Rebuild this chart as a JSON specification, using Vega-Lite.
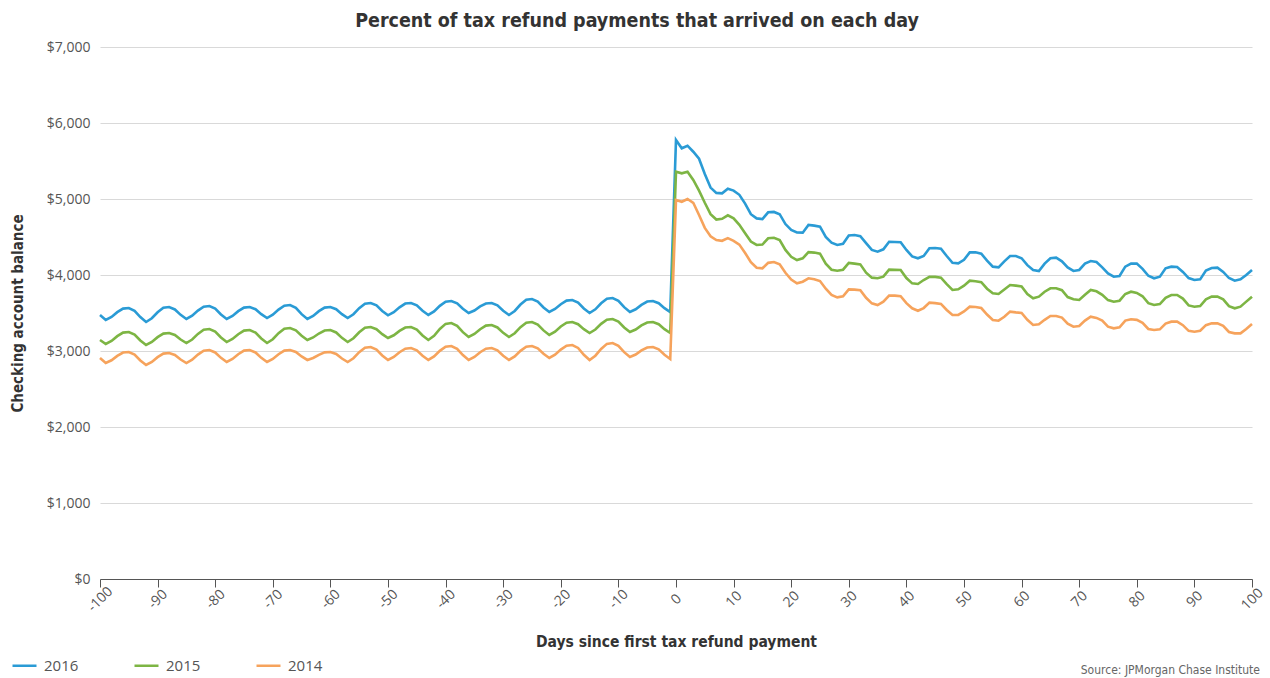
{
  "$schema": "https://vega.github.io/schema/vega-lite/v6.json",
  "width": 1152,
  "height": 532,
  "autosize": {"type": "none"},
  "padding": {"left": 100, "top": 47, "right": 18, "bottom": 99},
  "background": "#ffffff",
  "title": {
    "text": "Percent of tax refund payments that arrived on each day",
    "anchor": "middle",
    "frame": "group",
    "dx": -39,
    "offset": 9,
    "font": "Liberation Sans Narrow, DejaVu Sans Condensed, sans-serif",
    "fontSize": 19.5,
    "fontWeight": "bold",
    "color": "#333333"
  },
  "config": {
    "view": {"stroke": null},
    "axis": {"labelFont": "Open Sans", "titleFont": "Liberation Sans Narrow, DejaVu Sans Condensed, sans-serif"}
  },
  "layer": [
    {
      "data": {
        "values": [
          {"d": -100, "2016": 3474, "2015": 3145, "2014": 2908},
          {"d": -99, "2016": 3408, "2015": 3092, "2014": 2842},
          {"d": -98, "2016": 3448, "2015": 3132, "2014": 2878},
          {"d": -97, "2016": 3511, "2015": 3195, "2014": 2936},
          {"d": -96, "2016": 3558, "2015": 3242, "2014": 2980},
          {"d": -95, "2016": 3566, "2015": 3250, "2014": 2987},
          {"d": -94, "2016": 3529, "2015": 3216, "2014": 2953},
          {"d": -93, "2016": 3446, "2015": 3139, "2014": 2876},
          {"d": -92, "2016": 3382, "2015": 3079, "2014": 2816},
          {"d": -91, "2016": 3431, "2015": 3119, "2014": 2856},
          {"d": -90, "2016": 3510, "2015": 3182, "2014": 2919},
          {"d": -89, "2016": 3569, "2015": 3229, "2014": 2966},
          {"d": -88, "2016": 3579, "2015": 3237, "2014": 2974},
          {"d": -87, "2016": 3547, "2015": 3211, "2014": 2948},
          {"d": -86, "2016": 3476, "2015": 3151, "2014": 2888},
          {"d": -85, "2016": 3421, "2015": 3105, "2014": 2842},
          {"d": -84, "2016": 3464, "2015": 3151, "2014": 2885},
          {"d": -83, "2016": 3532, "2015": 3225, "2014": 2953},
          {"d": -82, "2016": 3583, "2015": 3280, "2014": 3004},
          {"d": -81, "2016": 3592, "2015": 3289, "2014": 3013},
          {"d": -80, "2016": 3558, "2015": 3255, "2014": 2981},
          {"d": -79, "2016": 3481, "2015": 3178, "2014": 2910},
          {"d": -78, "2016": 3421, "2015": 3118, "2014": 2855},
          {"d": -77, "2016": 3461, "2015": 3158, "2014": 2895},
          {"d": -76, "2016": 3524, "2015": 3221, "2014": 2958},
          {"d": -75, "2016": 3571, "2015": 3268, "2014": 3005},
          {"d": -74, "2016": 3579, "2015": 3276, "2014": 3013},
          {"d": -73, "2016": 3550, "2015": 3242, "2014": 2981},
          {"d": -72, "2016": 3485, "2015": 3165, "2014": 2910},
          {"d": -71, "2016": 3434, "2015": 3105, "2014": 2855},
          {"d": -70, "2016": 3477, "2015": 3155, "2014": 2895},
          {"d": -69, "2016": 3545, "2015": 3234, "2014": 2958},
          {"d": -68, "2016": 3596, "2015": 3293, "2014": 3005},
          {"d": -67, "2016": 3605, "2015": 3303, "2014": 3013},
          {"d": -66, "2016": 3568, "2015": 3271, "2014": 2987},
          {"d": -65, "2016": 3485, "2015": 3200, "2014": 2928},
          {"d": -64, "2016": 3421, "2015": 3145, "2014": 2882},
          {"d": -63, "2016": 3461, "2015": 3178, "2014": 2908},
          {"d": -62, "2016": 3524, "2015": 3230, "2014": 2950},
          {"d": -61, "2016": 3571, "2015": 3269, "2014": 2982},
          {"d": -60, "2016": 3579, "2015": 3276, "2014": 2987},
          {"d": -59, "2016": 3550, "2015": 3244, "2014": 2961},
          {"d": -58, "2016": 3485, "2015": 3173, "2014": 2901},
          {"d": -57, "2016": 3434, "2015": 3118, "2014": 2855},
          {"d": -56, "2016": 3484, "2015": 3168, "2014": 2905},
          {"d": -55, "2016": 3563, "2015": 3247, "2014": 2984},
          {"d": -54, "2016": 3622, "2015": 3306, "2014": 3043},
          {"d": -53, "2016": 3632, "2015": 3316, "2014": 3053},
          {"d": -52, "2016": 3600, "2015": 3287, "2014": 3019},
          {"d": -51, "2016": 3527, "2015": 3222, "2014": 2942},
          {"d": -50, "2016": 3470, "2015": 3171, "2014": 2882},
          {"d": -49, "2016": 3511, "2015": 3207, "2014": 2921},
          {"d": -48, "2016": 3575, "2015": 3265, "2014": 2984},
          {"d": -47, "2016": 3624, "2015": 3309, "2014": 3031},
          {"d": -46, "2016": 3632, "2015": 3316, "2014": 3039},
          {"d": -45, "2016": 3600, "2015": 3282, "2014": 3008},
          {"d": -44, "2016": 3529, "2015": 3205, "2014": 2937},
          {"d": -43, "2016": 3474, "2015": 3145, "2014": 2882},
          {"d": -42, "2016": 3520, "2015": 3201, "2014": 2928},
          {"d": -41, "2016": 3594, "2015": 3290, "2014": 3002},
          {"d": -40, "2016": 3649, "2015": 3357, "2014": 3057},
          {"d": -39, "2016": 3658, "2015": 3368, "2014": 3066},
          {"d": -38, "2016": 3626, "2015": 3331, "2014": 3029},
          {"d": -37, "2016": 3555, "2015": 3248, "2014": 2946},
          {"d": -36, "2016": 3500, "2015": 3184, "2014": 2882},
          {"d": -35, "2016": 3533, "2015": 3224, "2014": 2921},
          {"d": -34, "2016": 3586, "2015": 3287, "2014": 2984},
          {"d": -33, "2016": 3625, "2015": 3334, "2014": 3031},
          {"d": -32, "2016": 3632, "2015": 3342, "2014": 3039},
          {"d": -31, "2016": 3600, "2015": 3310, "2014": 3008},
          {"d": -30, "2016": 3529, "2015": 3239, "2014": 2937},
          {"d": -29, "2016": 3474, "2015": 3184, "2014": 2882},
          {"d": -28, "2016": 3527, "2015": 3234, "2014": 2928},
          {"d": -27, "2016": 3611, "2015": 3313, "2014": 3002},
          {"d": -26, "2016": 3674, "2015": 3372, "2014": 3057},
          {"d": -25, "2016": 3684, "2015": 3382, "2014": 3066},
          {"d": -24, "2016": 3650, "2015": 3348, "2014": 3034},
          {"d": -23, "2016": 3573, "2015": 3271, "2014": 2963},
          {"d": -22, "2016": 3513, "2015": 3211, "2014": 2908},
          {"d": -21, "2016": 3553, "2015": 3254, "2014": 2951},
          {"d": -20, "2016": 3616, "2015": 3322, "2014": 3019},
          {"d": -19, "2016": 3663, "2015": 3373, "2014": 3070},
          {"d": -18, "2016": 3671, "2015": 3382, "2014": 3079},
          {"d": -17, "2016": 3637, "2015": 3353, "2014": 3040},
          {"d": -16, "2016": 3560, "2015": 3288, "2014": 2951},
          {"d": -15, "2016": 3500, "2015": 3237, "2014": 2882},
          {"d": -14, "2016": 3549, "2015": 3283, "2014": 2938},
          {"d": -13, "2016": 3628, "2015": 3357, "2014": 3027},
          {"d": -12, "2016": 3687, "2015": 3412, "2014": 3094},
          {"d": -11, "2016": 3697, "2015": 3421, "2014": 3105},
          {"d": -10, "2016": 3660, "2015": 3387, "2014": 3068},
          {"d": -9, "2016": 3577, "2015": 3310, "2014": 2985},
          {"d": -8, "2016": 3513, "2015": 3250, "2014": 2921},
          {"d": -7, "2016": 3549, "2015": 3283, "2014": 2954},
          {"d": -6, "2016": 3607, "2015": 3336, "2014": 3007},
          {"d": -5, "2016": 3651, "2015": 3375, "2014": 3046},
          {"d": -4, "2016": 3658, "2015": 3382, "2014": 3053},
          {"d": -3, "2016": 3629, "2015": 3353, "2014": 3021},
          {"d": -2, "2016": 3564, "2015": 3288, "2014": 2950},
          {"d": -1, "2016": 3513, "2015": 3237, "2014": 2895},
          {"d": 0, "2016": 5776, "2015": 5359, "2014": 4987},
          {"d": 1, "2016": 5667, "2015": 5338, "2014": 4964},
          {"d": 2, "2016": 5701, "2015": 5359, "2014": 5000},
          {"d": 3, "2016": 5622, "2015": 5250, "2014": 4950},
          {"d": 4, "2016": 5530, "2015": 5110, "2014": 4790},
          {"d": 5, "2016": 5330, "2015": 4950, "2014": 4620},
          {"d": 6, "2016": 5150, "2015": 4800, "2014": 4510},
          {"d": 7, "2016": 5080, "2015": 4730, "2014": 4460},
          {"d": 8, "2016": 5075, "2015": 4740, "2014": 4450},
          {"d": 9, "2016": 5135, "2015": 4785, "2014": 4485},
          {"d": 10, "2016": 5110, "2015": 4745, "2014": 4450},
          {"d": 11, "2016": 5055, "2015": 4660, "2014": 4400},
          {"d": 12, "2016": 4940, "2015": 4548, "2014": 4290},
          {"d": 13, "2016": 4800, "2015": 4440, "2014": 4170},
          {"d": 14, "2016": 4745, "2015": 4395, "2014": 4095},
          {"d": 15, "2016": 4735, "2015": 4400, "2014": 4088},
          {"d": 16, "2016": 4825, "2015": 4483, "2014": 4160},
          {"d": 17, "2016": 4830, "2015": 4490, "2014": 4170},
          {"d": 18, "2016": 4800, "2015": 4460, "2014": 4140},
          {"d": 19, "2016": 4670, "2015": 4330, "2014": 4030},
          {"d": 20, "2016": 4592, "2015": 4240, "2014": 3940},
          {"d": 21, "2016": 4560, "2015": 4197, "2014": 3891},
          {"d": 22, "2016": 4557, "2015": 4220, "2014": 3912},
          {"d": 23, "2016": 4658, "2015": 4300, "2014": 3957},
          {"d": 24, "2016": 4650, "2015": 4295, "2014": 3945},
          {"d": 25, "2016": 4636, "2015": 4280, "2014": 3920},
          {"d": 26, "2016": 4500, "2015": 4150, "2014": 3820},
          {"d": 27, "2016": 4425, "2015": 4070, "2014": 3737},
          {"d": 28, "2016": 4395, "2015": 4057, "2014": 3706},
          {"d": 29, "2016": 4410, "2015": 4070, "2014": 3720},
          {"d": 30, "2016": 4520, "2015": 4160, "2014": 3810},
          {"d": 31, "2016": 4526, "2015": 4150, "2014": 3808},
          {"d": 32, "2016": 4510, "2015": 4140, "2014": 3800},
          {"d": 33, "2016": 4420, "2015": 4030, "2014": 3700},
          {"d": 34, "2016": 4330, "2015": 3965, "2014": 3627},
          {"d": 35, "2016": 4307, "2015": 3957, "2014": 3605},
          {"d": 36, "2016": 4338, "2015": 3978, "2014": 3649},
          {"d": 37, "2016": 4438, "2015": 4070, "2014": 3730},
          {"d": 38, "2016": 4435, "2015": 4068, "2014": 3728},
          {"d": 39, "2016": 4430, "2015": 4066, "2014": 3720},
          {"d": 40, "2016": 4330, "2015": 3960, "2014": 3630},
          {"d": 41, "2016": 4245, "2015": 3890, "2014": 3562},
          {"d": 42, "2016": 4220, "2015": 3882, "2014": 3530},
          {"d": 43, "2016": 4250, "2015": 3934, "2014": 3565},
          {"d": 44, "2016": 4351, "2015": 3975, "2014": 3636},
          {"d": 45, "2016": 4355, "2015": 3975, "2014": 3630},
          {"d": 46, "2016": 4345, "2015": 3965, "2014": 3620},
          {"d": 47, "2016": 4250, "2015": 3880, "2014": 3540},
          {"d": 48, "2016": 4160, "2015": 3803, "2014": 3474},
          {"d": 49, "2016": 4154, "2015": 3812, "2014": 3474},
          {"d": 50, "2016": 4200, "2015": 3860, "2014": 3520},
          {"d": 51, "2016": 4298, "2015": 3925, "2014": 3583},
          {"d": 52, "2016": 4300, "2015": 3918, "2014": 3578},
          {"d": 53, "2016": 4280, "2015": 3905, "2014": 3565},
          {"d": 54, "2016": 4190, "2015": 3820, "2014": 3480},
          {"d": 55, "2016": 4110, "2015": 3759, "2014": 3408},
          {"d": 56, "2016": 4101, "2015": 3750, "2014": 3399},
          {"d": 57, "2016": 4180, "2015": 3810, "2014": 3450},
          {"d": 58, "2016": 4250, "2015": 3868, "2014": 3518},
          {"d": 59, "2016": 4250, "2015": 3860, "2014": 3508},
          {"d": 60, "2016": 4220, "2015": 3850, "2014": 3500},
          {"d": 61, "2016": 4130, "2015": 3750, "2014": 3410},
          {"d": 62, "2016": 4066, "2015": 3693, "2014": 3342},
          {"d": 63, "2016": 4053, "2015": 3715, "2014": 3351},
          {"d": 64, "2016": 4150, "2015": 3780, "2014": 3410},
          {"d": 65, "2016": 4220, "2015": 3825, "2014": 3461},
          {"d": 66, "2016": 4228, "2015": 3825, "2014": 3461},
          {"d": 67, "2016": 4180, "2015": 3800, "2014": 3440},
          {"d": 68, "2016": 4100, "2015": 3710, "2014": 3360},
          {"d": 69, "2016": 4053, "2015": 3680, "2014": 3320},
          {"d": 70, "2016": 4066, "2015": 3671, "2014": 3329},
          {"d": 71, "2016": 4150, "2015": 3740, "2014": 3400},
          {"d": 72, "2016": 4184, "2015": 3803, "2014": 3452},
          {"d": 73, "2016": 4170, "2015": 3785, "2014": 3435},
          {"d": 74, "2016": 4100, "2015": 3740, "2014": 3400},
          {"d": 75, "2016": 4020, "2015": 3670, "2014": 3320},
          {"d": 76, "2016": 3978, "2015": 3649, "2014": 3298},
          {"d": 77, "2016": 3987, "2015": 3662, "2014": 3311},
          {"d": 78, "2016": 4110, "2015": 3750, "2014": 3400},
          {"d": 79, "2016": 4150, "2015": 3780, "2014": 3417},
          {"d": 80, "2016": 4150, "2015": 3765, "2014": 3410},
          {"d": 81, "2016": 4080, "2015": 3720, "2014": 3370},
          {"d": 82, "2016": 3990, "2015": 3630, "2014": 3290},
          {"d": 83, "2016": 3957, "2015": 3605, "2014": 3276},
          {"d": 84, "2016": 3978, "2015": 3618, "2014": 3285},
          {"d": 85, "2016": 4088, "2015": 3700, "2014": 3360},
          {"d": 86, "2016": 4110, "2015": 3737, "2014": 3386},
          {"d": 87, "2016": 4105, "2015": 3737, "2014": 3386},
          {"d": 88, "2016": 4040, "2015": 3690, "2014": 3340},
          {"d": 89, "2016": 3960, "2015": 3600, "2014": 3265},
          {"d": 90, "2016": 3934, "2015": 3583, "2014": 3254},
          {"d": 91, "2016": 3943, "2015": 3592, "2014": 3267},
          {"d": 92, "2016": 4060, "2015": 3680, "2014": 3340},
          {"d": 93, "2016": 4092, "2015": 3715, "2014": 3364},
          {"d": 94, "2016": 4097, "2015": 3715, "2014": 3364},
          {"d": 95, "2016": 4040, "2015": 3680, "2014": 3330},
          {"d": 96, "2016": 3960, "2015": 3590, "2014": 3250},
          {"d": 97, "2016": 3925, "2015": 3562, "2014": 3232},
          {"d": 98, "2016": 3943, "2015": 3583, "2014": 3232},
          {"d": 99, "2016": 4000, "2015": 3650, "2014": 3290},
          {"d": 100, "2016": 4066, "2015": 3715, "2014": 3355}
        ]
      },
      "transform": [{"fold": ["2016", "2015", "2014"], "as": ["year", "balance"]}],
      "mark": {"type": "line", "strokeWidth": 2.6, "interpolate": "linear"},
      "encoding": {
        "x": {
          "field": "d",
          "type": "quantitative",
          "scale": {"domain": [-100, 100], "nice": false, "zero": false},
          "axis": {
            "values": [-100, -90, -80, -70, -60, -50, -40, -30, -20, -10, 0, 10, 20, 30, 40, 50, 60, 70, 80, 90, 100],
            "labelExpr": "'' + datum.value",
            "title": "Days since first tax refund payment",
            "grid": false,
            "domainColor": "#555555",
            "tickColor": "#555555",
            "tickSize": 8,
            "labelAngle": -45,
            "labelAlign": "center",
            "labelBaseline": "middle",
            "labelPadding": 12,
            "labelFlush": false,
            "labelOverlap": false,
            "labelFontSize": 14,
            "labelColor": "#555555",
            "titleFontSize": 15.5,
            "titleFontWeight": "bold",
            "titleColor": "#333333",
            "titleY": 62,
            "titleBaseline": "middle"
          }
        },
        "y": {
          "field": "balance",
          "type": "quantitative",
          "scale": {"domain": [0, 7000], "nice": false},
          "axis": {
            "values": [0, 1000, 2000, 3000, 4000, 5000, 6000, 7000],
            "format": "$,.0f",
            "title": "Checking account balance",
            "domain": false,
            "ticks": false,
            "gridColor": "#d9d9d9",
            "labelPadding": 10,
            "labelFontSize": 14,
            "labelColor": "#555555",
            "titleFontSize": 15,
            "titleFontWeight": "bold",
            "titleColor": "#333333",
            "titleX": -83,
            "titleY": 266,
            "titleAngle": -90,
            "titleAlign": "center",
            "titleBaseline": "middle"
          }
        },
        "color": {
          "field": "year",
          "type": "nominal",
          "sort": ["2016", "2015", "2014"],
          "scale": {"domain": ["2016", "2015", "2014"], "range": ["#2a9bd5", "#7db544", "#f6a35c"]},
          "legend": {
            "orient": "none",
            "legendX": -89,
            "legendY": 605,
            "direction": "horizontal",
            "columns": 3,
            "title": null,
            "symbolType": "stroke",
            "symbolSize": 576,
            "symbolStrokeWidth": 2.5,
            "labelFont": "Open Sans",
            "labelFontSize": 15,
            "labelColor": "#555555",
            "labelOffset": 6,
            "columnPadding": 50,
            "padding": 0
          }
        }
      }
    },
    {
      "data": {"values": [{"note": "Source: JPMorgan Chase Institute"}]},
      "mark": {
        "type": "text",
        "align": "right",
        "baseline": "middle",
        "dx": 8,
        "font": "Liberation Sans Narrow, DejaVu Sans Condensed, sans-serif",
        "fontSize": 12,
        "color": "#666666"
      },
      "encoding": {
        "x": {"datum": 100, "type": "quantitative"},
        "y": {"datum": -1200, "type": "quantitative"},
        "text": {"field": "note"}
      }
    }
  ]
}
